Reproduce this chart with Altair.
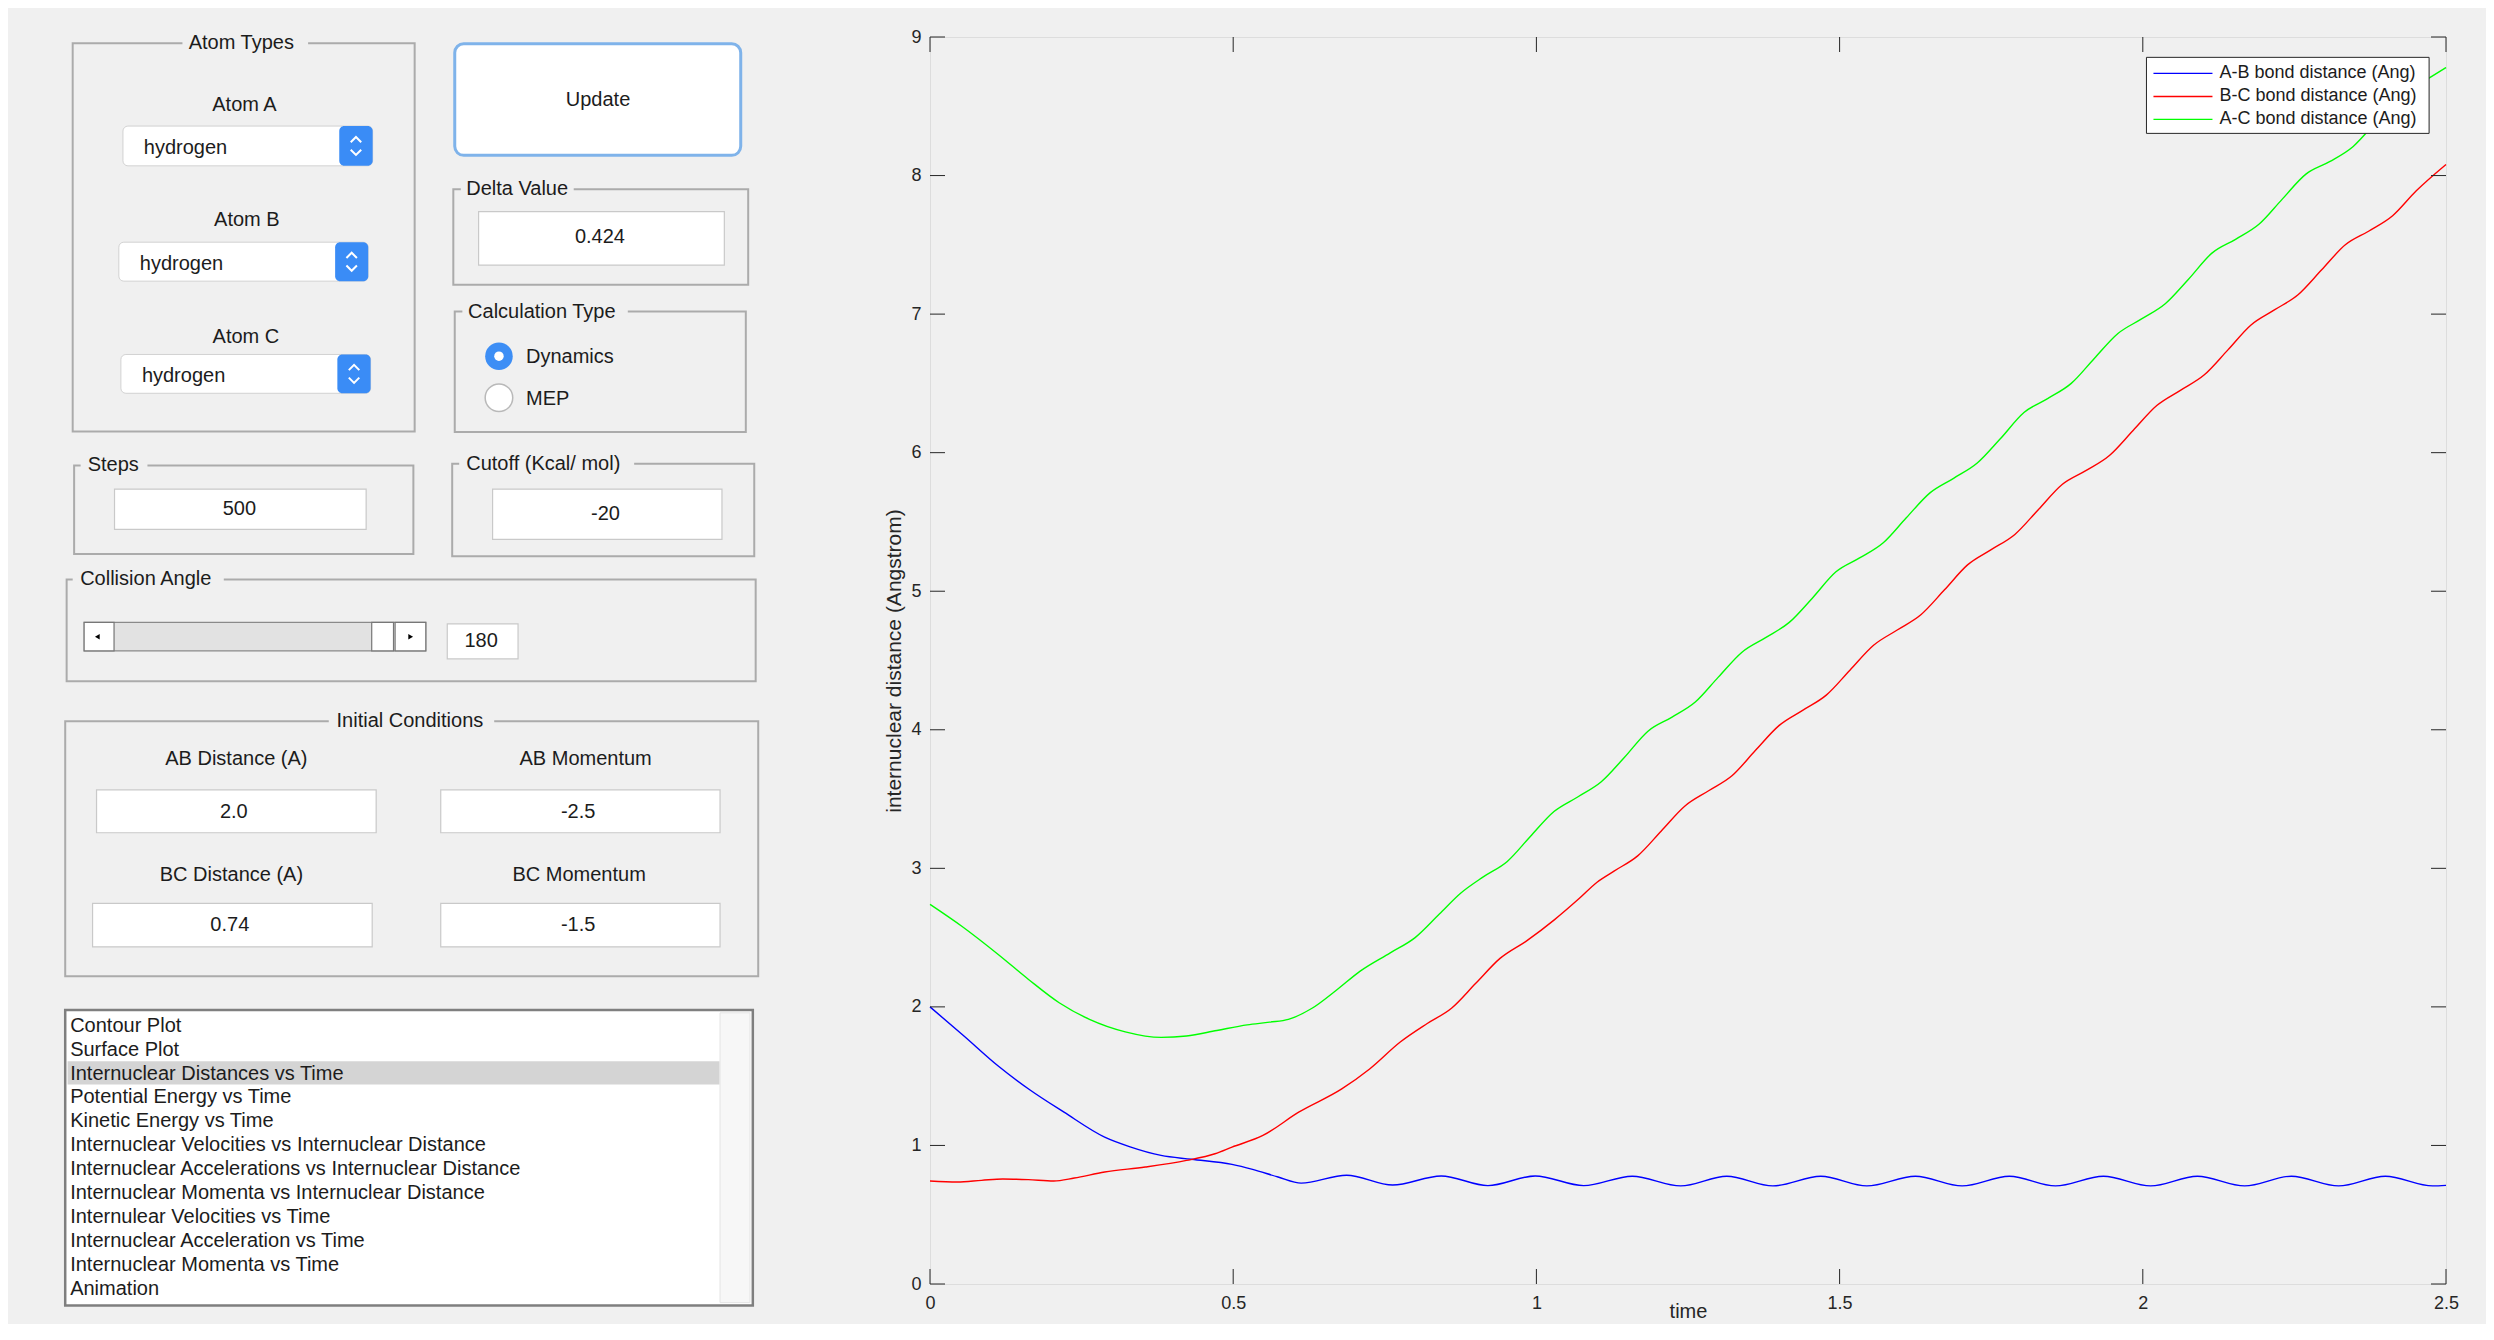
import altair as alt
import pandas as pd

# ----------------------------------------------------------------- curves
time_ab = [0.000, 0.056, 0.112, 0.165, 0.221, 0.288, 0.330, 0.381, 0.431, 0.498,
           0.532, 0.574, 0.612, 0.687, 0.763, 0.843, 0.920, 0.998, 1.078, 1.158,
           1.238, 1.314, 1.390, 1.469, 1.545, 1.625, 1.702, 1.780, 1.856, 1.935,
           2.013, 2.090, 2.168, 2.245, 2.323, 2.400, 2.478, 2.500]
dist_ab = [2.000, 1.790, 1.575, 1.400, 1.240, 1.060, 0.990, 0.928, 0.900, 0.863,
           0.827, 0.772, 0.728, 0.785, 0.714, 0.780, 0.710, 0.780, 0.710, 0.778,
           0.708, 0.778, 0.708, 0.778, 0.708, 0.778, 0.708, 0.778, 0.708, 0.778,
           0.708, 0.778, 0.708, 0.778, 0.708, 0.778, 0.708, 0.712]

time_bc = [0.000, 0.045, 0.085, 0.120, 0.162, 0.204, 0.238, 0.288, 0.355, 0.423,
           0.470, 0.498, 0.549, 0.608, 0.679, 0.725, 0.776, 0.820, 0.860, 0.900,
           0.940, 0.985, 1.030, 1.070, 1.100, 1.128, 1.167, 1.206, 1.245, 1.284,
           1.323, 1.361, 1.400, 1.439, 1.478, 1.517, 1.556, 1.595, 1.634, 1.673,
           1.711, 1.750, 1.789, 1.828, 1.867, 1.906, 1.945, 1.984, 2.023, 2.062,
           2.101, 2.140, 2.178, 2.217, 2.256, 2.295, 2.334, 2.373, 2.412, 2.451,
           2.500]
dist_bc = [0.743, 0.736, 0.748, 0.758, 0.753, 0.743, 0.765, 0.808, 0.844, 0.892,
           0.940, 0.988, 1.072, 1.240, 1.408, 1.552, 1.748, 1.880, 1.990, 2.170,
           2.350, 2.480, 2.630, 2.780, 2.900, 2.980, 3.090, 3.270, 3.450, 3.560,
           3.670, 3.850, 4.030, 4.140, 4.250, 4.430, 4.610, 4.720, 4.830, 5.010,
           5.190, 5.300, 5.410, 5.590, 5.770, 5.870, 5.980, 6.160, 6.340, 6.450,
           6.560, 6.740, 6.920, 7.030, 7.140, 7.320, 7.500, 7.600, 7.710, 7.890,
           8.080]

time_ac = [0.000, 0.053, 0.112, 0.162, 0.213, 0.263, 0.322, 0.381, 0.423, 0.473,
           0.523, 0.560, 0.591, 0.630, 0.670, 0.710, 0.759, 0.800, 0.840, 0.875,
           0.913, 0.952, 0.990, 1.029, 1.068, 1.107, 1.145, 1.184, 1.223, 1.262,
           1.300, 1.339, 1.378, 1.417, 1.455, 1.494, 1.533, 1.572, 1.610, 1.649,
           1.688, 1.727, 1.765, 1.804, 1.843, 1.882, 1.920, 1.959, 1.998, 2.037,
           2.075, 2.114, 2.153, 2.192, 2.230, 2.269, 2.308, 2.347, 2.385, 2.424,
           2.463, 2.500]
dist_ac = [2.740, 2.580, 2.380, 2.200, 2.030, 1.910, 1.820, 1.780, 1.790, 1.830,
           1.870, 1.890, 1.910, 1.990, 2.120, 2.260, 2.390, 2.500, 2.670, 2.820,
           2.940, 3.050, 3.230, 3.410, 3.515, 3.625, 3.800, 3.990, 4.090, 4.200,
           4.380, 4.560, 4.665, 4.775, 4.950, 5.140, 5.240, 5.350, 5.530, 5.710,
           5.815, 5.925, 6.100, 6.290, 6.390, 6.500, 6.680, 6.860, 6.965, 7.075,
           7.250, 7.440, 7.540, 7.650, 7.830, 8.010, 8.100, 8.210, 8.390, 8.580,
           8.680, 8.780]

series_names = ['A-B bond distance (Ang)', 'B-C bond distance (Ang)', 'A-C bond distance (Ang)']
series_colors = ['#0000ff', '#ff0000', '#00ff00']
x_ticks = [0, 0.5, 1, 1.5, 2, 2.5]
y_ticks = [0, 1, 2, 3, 4, 5, 6, 7, 8, 9]

# ----------------------------------------------------------------- texts of the GUI panel
atom_labels = ['Atom A', 'Atom B', 'Atom C']
atom_values = ['hydrogen', 'hydrogen', 'hydrogen']
calc_types = ['Dynamics', 'MEP']
field_values = ['0.424', '500', '-20', '180', '2.0', '-2.5', '0.74', '-1.5']
init_labels = ['AB Distance (A)', 'AB Momentum', 'BC Distance (A)', 'BC Momentum']
plot_list = ['Contour Plot', 'Surface Plot', 'Internuclear Distances vs Time',
             'Potential Energy vs Time', 'Kinetic Energy vs Time',
             'Internuclear Velocities vs Internuclear Distance',
             'Internuclear Accelerations vs Internuclear Distance',
             'Internuclear Momenta vs Internuclear Distance',
             'Internulear Velocities vs Time', 'Internuclear Acceleration vs Time',
             'Internuclear Momenta vs Time', 'Animation']

# ----------------------------------------------------------------- layout
FONT = 'Liberation Sans'
INK = '#262626'
S = 2494 / 1568            # the GUI layout below is measured on a 1568 px wide copy
X0, Y0 = 585 * S, 23 * S   # top left corner of the axes on the page
W, H = 1516, 1247
TICK = 15


def px(v):
    return v * S - X0


def py(v):
    return v * S - Y0


def rects(rows, **style):
    df = pd.DataFrame([{'ax': px(a), 'ay': py(b), 'bx': px(c), 'by': py(d)} for a, b, c, d in rows])
    return alt.Chart(df).mark_rect(**style).encode(
        x=alt.X('ax:Q', scale=None, axis=None), x2='bx:Q',
        y=alt.Y('ay:Q', scale=None, axis=None), y2='by:Q')


def texts(rows, size=20, **style):
    df = pd.DataFrame([{'label': s, 'ax': px(a), 'ay': py(b)} for s, a, b in rows])
    return alt.Chart(df).mark_text(font=FONT, fontSize=size, color='#1c1c1c', baseline='middle', **style).encode(
        x=alt.X('ax:Q', scale=None, axis=None), y=alt.Y('ay:Q', scale=None, axis=None), text='label:N')


def points(rows, **style):
    df = pd.DataFrame([{'ax': px(a), 'ay': py(b)} for a, b in rows])
    return alt.Chart(df).mark_point(**style).encode(
        x=alt.X('ax:Q', scale=None, axis=None), y=alt.Y('ay:Q', scale=None, axis=None))


#------------------------------------------------------------------ GUI panel
group_boxes = rects([(46, 27, 261, 271), (285.3, 118.7, 470.7, 178.8), (286.2, 195.6, 469.2, 271.4),
                     (46.9, 292.4, 260.2, 348), (284.6, 291.3, 474.5, 349.4), (42.2, 364, 475.4, 428),
                     (41.3, 453.2, 477, 613.5)],
                    fill='transparent', stroke='#ababab', strokeWidth=2)
title_gaps = rects([(115, 23, 194, 31), (290, 114.7, 361, 122.7), (291, 191.6, 395, 199.6),
                    (51, 288.4, 93, 296.4), (289, 287.3, 399, 295.3), (46, 360, 141, 368),
                    (207, 449.2, 311, 457.2)], fill='#f0f0f0')
group_titles_c = texts([('Atom Types', 152, 27), ('Initial Conditions', 258, 453.2)], align='center')
group_titles_l = texts([('Delta Value', 293.4, 118.7), ('Calculation Type', 294.6, 195.6),
                        ('Steps', 55.4, 292.4), ('Cutoff (Kcal/ mol)', 293.4, 291.3),
                        ('Collision Angle', 50.7, 364)], align='left')

update_btn = rects([(286.2, 27.2, 466, 97.4)], fill='white', stroke='#7fb3ea', strokeWidth=3, cornerRadius=9)

popups = rects([(77.6, 79, 234.6, 104), (75, 152, 231.8, 176.5), (76.3, 222.6, 233.3, 247)],
               fill='white', stroke='#d2d2d2', strokeWidth=1, cornerRadius=5)
popup_btns = rects([(213.6, 79, 234.6, 104), (211, 152, 231.8, 176.5), (212.4, 222.6, 233.3, 247)],
                   fill='#3a8cf6', cornerRadius=5)
chev_up = points([(224.1, 87.5), (221.4, 160.3), (222.9, 230.8)],
                 shape='M-1,0.5L0,-0.5L1,0.5', filled=False, stroke='white', strokeWidth=2, size=110, opacity=1)
chev_dn = points([(224.1, 95.5), (221.4, 168.3), (222.9, 238.8)],
                 shape='M-1,-0.5L0,0.5L1,-0.5', filled=False, stroke='white', strokeWidth=2, size=110, opacity=1)

fields = rects([(301.2, 132.8, 455.7, 166.4), (72.3, 307.3, 230.5, 332.6), (310, 307.3, 454.2, 338.8),
                (281.5, 392, 326, 414), (61, 496.3, 236.8, 523.3), (277.4, 496.3, 453, 523.3),
                (58.5, 567.7, 234.3, 595), (277.4, 567.7, 453, 595)],
               fill='white', stroke='#c9c9c9', strokeWidth=1.2)
field_pos = [(377.5, 149), (150.8, 320), (381, 322.8), (302.8, 403),
             (147.3, 510), (363.8, 510), (144.8, 581.5), (363.8, 581.5)]
field_texts = texts([(v, a, b) for v, (a, b) in zip(field_values, field_pos)], align='center')

label_pos = [(154, 66), (155.5, 137.8), (154.9, 211.9)]
atom_texts = texts([(v, a, b) for v, (a, b) in zip(atom_labels, label_pos)], align='center')
value_pos = [(90.7, 92.6), (88.2, 165.6), (89.5, 236)]
atom_values_t = texts([(v, a, b) for v, (a, b) in zip(atom_values, value_pos)], align='left')
init_pos = [(148.9, 477.2), (368.5, 477.2), (145.8, 550), (364.4, 550)]
init_texts = texts([(v, a, b) for v, (a, b) in zip(init_labels, init_pos)], align='center')
other_texts = texts([('Update', 376.3, 62.3)], align='center')

radio_on = points([(314, 223.7)], shape='circle', filled=True, color='#3d8ef5', size=760, opacity=1)
radio_dot = points([(314, 223.7)], shape='circle', filled=True, color='white', size=90, opacity=1)
radio_off = points([(314, 249.8)], shape='circle', filled=True, fill='white', stroke='#b9b9b9',
                   strokeWidth=1.5, size=760, opacity=1)
calc_texts = texts([(calc_types[0], 331, 224.5), (calc_types[1], 331, 250.6)], align='left')

slider_track = rects([(53.2, 391, 268, 409)], fill='#e2e2e2', stroke='#8a8a8a', strokeWidth=1.2)
slider_btns = rects([(53.2, 391, 72, 409), (248.7, 391, 268, 409), (234, 391, 247.7, 409)],
                    fill='white', stroke='#777777', strokeWidth=1.2)
arrow_l = points([(61.5, 400)], shape='triangle-left', filled=True, color='black', size=30, opacity=1)
arrow_r = points([(258.5, 400)], shape='triangle-right', filled=True, color='black', size=30, opacity=1)

listbox = rects([(41.3, 634.7, 473.6, 820.5)], fill='white', stroke='#7f7f7f', strokeWidth=2.5)
scroll_strip = rects([(453, 636.5, 471.8, 818.7)], fill='#f7f7f7', stroke='#e4e4e4', strokeWidth=1)
highlight = rects([(42.8, 667, 452.6, 681.5)], fill='#d4d4d4')
list_texts = texts([(name, 44.4, 644.5 + 15.08 * i) for i, name in enumerate(plot_list)], align='left')

panel = [group_boxes, title_gaps, group_titles_c, group_titles_l, update_btn, popups, popup_btns,
         chev_up, chev_dn, fields, field_texts, atom_texts, atom_values_t, init_texts, other_texts,
         radio_on, radio_dot, radio_off, calc_texts, slider_track, slider_btns, arrow_l, arrow_r,
         listbox, scroll_strip, highlight, list_texts]

#------------------------------------------------------------------ the plot
curves = pd.concat([
    pd.DataFrame({'time': t, 'dist': d, 'bond': name})
    for t, d, name in zip([time_ab, time_bc, time_ac], [dist_ab, dist_bc, dist_ac], series_names)
])

x_enc = alt.X('time:Q', scale=alt.Scale(domain=[0, 2.5], nice=False, zero=False),
              axis=alt.Axis(values=x_ticks, format='~g', title='time', ticks=False, domain=False,
                            grid=False, labelFlush=False, labelPadding=10, labelFontSize=18,
                            labelColor=INK, titleFontSize=20, titleFontWeight='normal',
                            titleColor=INK, titleY=37, titleBaseline='bottom',
                            labelFont=FONT, titleFont=FONT))
y_enc = alt.Y('dist:Q', scale=alt.Scale(domain=[0, 9], nice=False),
              axis=alt.Axis(values=y_ticks, format='d', title='internuclear distance (Angstrom)',
                            ticks=False, domain=False, grid=False, labelFlush=False, labelPadding=9,
                            labelFontSize=18, labelColor=INK, titleFontSize=21,
                            titleFontWeight='normal', titleColor=INK, titlePadding=6,
                            labelFont=FONT, titleFont=FONT))
color_enc = alt.Color('bond:N', scale=alt.Scale(domain=series_names, range=series_colors), legend=None)

lines = alt.Chart(curves).mark_line(strokeWidth=1.4, interpolate='monotone').encode(
    x=x_enc, y=y_enc, color=color_enc)

xt = pd.DataFrame({'time': x_ticks})
yt = pd.DataFrame({'dist': y_ticks})
ticks = [
    alt.Chart(xt).mark_rule(color=INK, strokeWidth=1).encode(x=x_enc, y=alt.value(H), y2=alt.value(H - TICK)),
    alt.Chart(xt).mark_rule(color=INK, strokeWidth=1).encode(x=x_enc, y=alt.value(0), y2=alt.value(TICK)),
    alt.Chart(yt).mark_rule(color=INK, strokeWidth=1).encode(y=y_enc, x=alt.value(0), x2=alt.value(TICK)),
    alt.Chart(yt).mark_rule(color=INK, strokeWidth=1).encode(y=y_enc, x=alt.value(W), x2=alt.value(W - TICK)),
]

# legend box drawn by hand (MATLAB style)
legend_rows = pd.DataFrame({'bond': series_names,
                            'ax': [px(1354.2)] * 3, 'bx': [px(1391.3)] * 3,
                            'tx': [px(1395.7)] * 3,
                            'ay': [py(45.9), py(60.4), py(74.8)]})
legend_box = rects([(1349.8, 35.8, 1527.5, 83.6)], fill='white', stroke=INK, strokeWidth=1)
legend_lines = alt.Chart(legend_rows).mark_rule(strokeWidth=1.4).encode(
    x=alt.X('ax:Q', scale=None, axis=None), x2='bx:Q',
    y=alt.Y('ay:Q', scale=None, axis=None), color=color_enc)
legend_text = alt.Chart(legend_rows).mark_text(font=FONT, fontSize=18, color='#1c1c1c',
                                               align='left', baseline='middle').encode(
    x=alt.X('tx:Q', scale=None, axis=None), y=alt.Y('ay:Q', scale=None, axis=None), text='bond:N')

chart = alt.layer(*panel, lines, *ticks, legend_box, legend_lines, legend_text).properties(
    width=W,
    height=H,
    padding={'left': 922, 'top': 29, 'right': 40, 'bottom': 40},
    autosize=alt.AutoSizeParams(type='none'),
    background='#f0f0f0'
).configure_view(
    fill='white', stroke=INK, strokeWidth=1
).configure(font=FONT)

chart.save("out.html", embed_options={"renderer": "svg", "actions": False})
